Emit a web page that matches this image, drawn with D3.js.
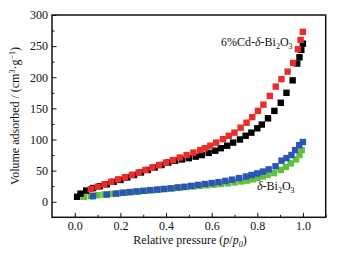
<!DOCTYPE html>
<html>
<head>
<meta charset="utf-8">
<script src="https://cdn.jsdelivr.net/npm/d3@7"></script>
<style>
  body { margin: 0; background: #fff; }
  text { font-family: "Liberation Serif", "Times New Roman", serif; fill: #111; }
</style>
</head>
<body>
<div id="chart"></div>
<script>
// 6%Cd-δ-Bi2O3, adsorption (black) and desorption (red)
var blackP = [0.01, 0.025, 0.05, 0.08, 0.11, 0.14, 0.17, 0.20, 0.23, 0.26, 0.29, 0.32, 0.35, 0.38, 0.41, 0.44, 0.47, 0.50, 0.53, 0.557, 0.587, 0.616, 0.64, 0.668, 0.694, 0.724, 0.749, 0.774, 0.80, 0.82, 0.847, 0.875, 0.903, 0.928, 0.955, 0.975, 0.985, 0.993, 1.0];
var blackV = [8, 13, 18, 22, 25, 28, 32, 35, 39, 43, 47, 51, 55, 59, 63, 66, 68, 70, 72.5, 75, 78.5, 82, 86, 90, 95, 100, 106, 111, 118, 124, 134, 146, 159, 175, 195, 222, 232, 244, 254];
var redP = [0.07, 0.10, 0.13, 0.16, 0.19, 0.22, 0.25, 0.28, 0.31, 0.34, 0.37, 0.40, 0.43, 0.46, 0.49, 0.52, 0.55, 0.57, 0.594, 0.62, 0.65, 0.675, 0.70, 0.727, 0.753, 0.778, 0.803, 0.827, 0.855, 0.881, 0.906, 0.933, 0.957, 0.978, 0.99, 1.0];
var redV = [20, 24, 28, 32, 36, 39.5, 43, 47, 51, 55, 59, 63, 67, 71, 75, 79, 83, 86, 90, 95, 100.6, 106, 111, 119, 127, 136, 146, 156, 170, 185, 197, 209, 223, 245, 260, 273];
// δ-Bi2O3, adsorption (green) and desorption (blue)
var greenP = [0.04, 0.07, 0.10, 0.13, 0.16, 0.19, 0.22, 0.25, 0.28, 0.31, 0.34, 0.37, 0.40, 0.43, 0.46, 0.49, 0.52, 0.55, 0.58, 0.61, 0.64, 0.67, 0.70, 0.73, 0.756, 0.78, 0.80, 0.825, 0.845, 0.873, 0.903, 0.925, 0.947, 0.97, 0.985, 0.995];
var greenV = [8, 9, 10.5, 11.5, 12.5, 13.5, 14.5, 15.5, 16.5, 17.5, 18.5, 19.5, 20.5, 21.5, 22.5, 23.5, 24.5, 25.5, 26.5, 27.5, 28.5, 29.5, 31, 32.5, 34, 36, 38, 40.5, 43, 46, 51, 56, 61.5, 68, 75, 83];
var blueP = [0.08, 0.14, 0.18, 0.21, 0.24, 0.27, 0.30, 0.33, 0.36, 0.39, 0.42, 0.45, 0.48, 0.51, 0.54, 0.57, 0.60, 0.63, 0.66, 0.69, 0.72, 0.75, 0.775, 0.80, 0.825, 0.85, 0.88, 0.906, 0.928, 0.95, 0.966, 0.984, 1.0];
var blueV = [9, 11.5, 13, 14.5, 15.5, 16.5, 17.5, 18.6, 19.5, 20.5, 21.5, 23, 24, 25.5, 27, 28.5, 30, 31.5, 33.5, 35.5, 38, 40.5, 43, 45.5, 48.5, 52, 57, 66, 70, 75, 83, 91, 96];

var xTicks = [0.0, 0.2, 0.4, 0.6, 0.8, 1.0];
var yTicks = [0, 50, 100, 150, 200, 250, 300];

var width = 348, height = 255;
var svg = d3.select("#chart").append("svg")
    .attr("width", width)
    .attr("height", height);

var xScale = d3.scaleLinear().domain([-0.1, 1.1]).range([52, 325.7]);
var yScale = d3.scaleLinear().domain([-25, 300]).range([217.3, 15]);

// minor ticks
var xMinor = d3.range(-0.1, 1.1, 0.1).map(function (d) { return Math.round(d * 10) / 10; })
    .filter(function (d) { return xTicks.indexOf(d) < 0 && d > -0.1; });
var yMinor = d3.range(-25, 300, 25).filter(function (d) { return yTicks.indexOf(d) < 0 && d > -25; });

svg.append("g")
    .attr("transform", "translate(0,217.3)")
    .call(d3.axisBottom(xScale).tickValues(xMinor).tickSize(-2.5).tickFormat(""))
    .call(function (g) { g.select(".domain").remove(); });
svg.append("g")
    .attr("transform", "translate(52,0)")
    .call(d3.axisLeft(yScale).tickValues(yMinor).tickSize(-2.5).tickFormat(""))
    .call(function (g) { g.select(".domain").remove(); });

var xAxis = svg.append("g")
    .attr("transform", "translate(0,217.3)")
    .call(d3.axisBottom(xScale).tickValues(xTicks).tickSize(-4.5).tickPadding(4)
        .tickFormat(d3.format(".1f")));
xAxis.select(".domain").remove();
xAxis.selectAll("text").attr("font-size", 12)
    .style("font-family", "Liberation Serif");

var yAxis = svg.append("g")
    .attr("transform", "translate(52,0)")
    .call(d3.axisLeft(yScale).tickValues(yTicks).tickSize(-4.5).tickPadding(4));
yAxis.select(".domain").remove();
yAxis.selectAll("text").attr("font-size", 12)
    .style("font-family", "Liberation Serif");
svg.selectAll(".tick line").attr("stroke", "#111").attr("stroke-width", 1);

// frame
svg.append("rect")
    .attr("x", 52).attr("y", 15)
    .attr("width", 325.7 - 52).attr("height", 217.3 - 15)
    .attr("fill", "none").attr("stroke", "#111").attr("stroke-width", 1.5);

function drawSeries(px, vy, color) {
    var pts = px.map(function (p, i) { return { p: p, v: vy[i] }; });
    svg.append("g").selectAll("rect")
        .data(pts)
        .enter()
        .append("rect")
        .attr("x", function (d) { return xScale(d.p) - 3.2; })
        .attr("y", function (d) { return yScale(d.v) - 3.2; })
        .attr("width", 6.4)
        .attr("height", 6.4)
        .attr("fill", color);
}
drawSeries(greenP, greenV, "#5fc23a");
drawSeries(blueP, blueV, "#2b55b6");
drawSeries(blackP, blackV, "#000000");
drawSeries(redP, redV, "#ec2b2b");

// series labels
var lab1 = svg.append("text").attr("x", 221).attr("y", 46).attr("font-size", 12);
lab1.append("tspan").text("6%Cd-");
lab1.append("tspan").attr("font-style", "italic").text("δ");
lab1.append("tspan").text("-Bi");
lab1.append("tspan").attr("font-size", 8).attr("dy", 3).text("2");
lab1.append("tspan").attr("dy", -3).text("O");
lab1.append("tspan").attr("font-size", 8).attr("dy", 3).text("3");

var lab2 = svg.append("text").attr("x", 257).attr("y", 190).attr("font-size", 12);
lab2.append("tspan").attr("font-style", "italic").text("δ");
lab2.append("tspan").text("-Bi");
lab2.append("tspan").attr("font-size", 8).attr("dy", 3).text("2");
lab2.append("tspan").attr("dy", -3).text("O");
lab2.append("tspan").attr("font-size", 8).attr("dy", 3).text("3");

// axis titles
var xt = svg.append("text").attr("x", 190).attr("y", 244)
    .attr("text-anchor", "middle").attr("font-size", 12);
xt.append("tspan").text("Relative pressure (");
xt.append("tspan").attr("font-style", "italic").text("p");
xt.append("tspan").text("/");
xt.append("tspan").attr("font-style", "italic").text("p");
xt.append("tspan").attr("font-size", 8).attr("dy", 3).attr("font-style", "italic").text("0");
xt.append("tspan").attr("dy", -3).text(")");

var yt = svg.append("text")
    .attr("transform", "translate(19,116) rotate(-90)")
    .attr("text-anchor", "middle").attr("font-size", 12);
yt.append("tspan").text("Volume adsorbed / (cm");
yt.append("tspan").attr("font-size", 8).attr("dy", -4).text("3");
yt.append("tspan").attr("dy", 4).text("·g");
yt.append("tspan").attr("font-size", 8).attr("dy", -4).text("−1");
yt.append("tspan").attr("dy", 4).text(")");
</script>
</body>
</html>
